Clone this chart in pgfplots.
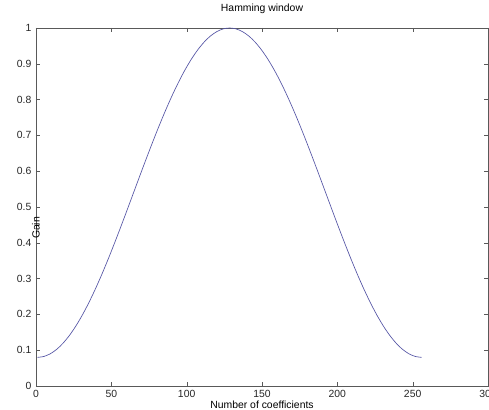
\documentclass[border=0pt]{standalone}
\usepackage{fontspec}
\setmainfont{Liberation Sans}
\usepackage{pgfplots}
\pgfplotsset{compat=1.18}
\definecolor{curve}{RGB}{85,85,165}
\begin{document}
\begin{tikzpicture}
\begin{axis}[
  name=ax,
  width=339pt, height=268.5pt,
  scale only axis,
  xmin=0, xmax=300, ymin=0, ymax=1,
  xtick={0,50,...,300},
  ytick={0,0.1,...,1},
  yticklabels={0,0.1,0.2,0.3,0.4,0.5,0.6,0.7,0.8,0.9,1},
  tick align=inside,
  major tick length=3pt,
  axis line style={black!65},
  tick style={black!65},
  every tick label/.append style={font=\fontsize{7.8}{9}\selectfont, text=black!85},
  /pgf/number format/assume math mode=true,
  title={Hamming window},
  title style={font=\fontsize{7.8}{9}\selectfont, at={(axis description cs:0.5,1)}, anchor=center, yshift=8.25pt},
  xlabel={Number of coefficients},
  xlabel style={font=\fontsize{7.8}{9}\selectfont, at={(axis description cs:0.5,0)}, anchor=center, yshift=-14pt},
  ylabel={Gain},
  ylabel style={font=\fontsize{7.8}{9}\selectfont, at={(axis description cs:0,0.5)}, anchor=center, xshift=-15.75pt},
  clip=false,
]
\addplot[color=curve, line width=0.5pt, smooth] coordinates {
(1,0.08000) (5.25,0.08252) (9.5,0.09005) (13.75,0.10251) (18,0.11977)
(22.25,0.14163) (26.5,0.16785) (30.75,0.19815) (35,0.23220) (39.25,0.26962)
(43.5,0.31000) (47.75,0.35290) (52,0.39785) (56.25,0.44436) (60.5,0.49192)
(64.75,0.54000) (69,0.58808) (73.25,0.63564) (77.5,0.68215) (81.75,0.72710)
(86,0.77000) (90.25,0.81038) (94.5,0.84780) (98.75,0.88185) (103,0.91215)
(107.25,0.93837) (111.5,0.96023) (115.75,0.97749) (120,0.98995) (124.25,0.99748)
(128.5,1.00000)
(132.75,0.99748) (137,0.98995) (141.25,0.97749) (145.5,0.96023) (149.75,0.93837)
(154,0.91215) (158.25,0.88185) (162.5,0.84780) (166.75,0.81038) (171,0.77000)
(175.25,0.72710) (179.5,0.68215) (183.75,0.63564) (188,0.58808) (192.25,0.54000)
(196.5,0.49192) (200.75,0.44436) (205,0.39785) (209.25,0.35290) (213.5,0.31000)
(217.75,0.26962) (222,0.23220) (226.25,0.19815) (230.5,0.16785) (234.75,0.14163)
(239,0.11977) (243.25,0.10251) (247.5,0.09005) (251.75,0.08252) (256,0.08000)
};
\end{axis}
\pgfresetboundingbox
\path ([xshift=-27pt,yshift=-18pt]ax.south west) rectangle ([xshift=0.75pt,yshift=21pt]ax.north east);
\end{tikzpicture}
\end{document}
